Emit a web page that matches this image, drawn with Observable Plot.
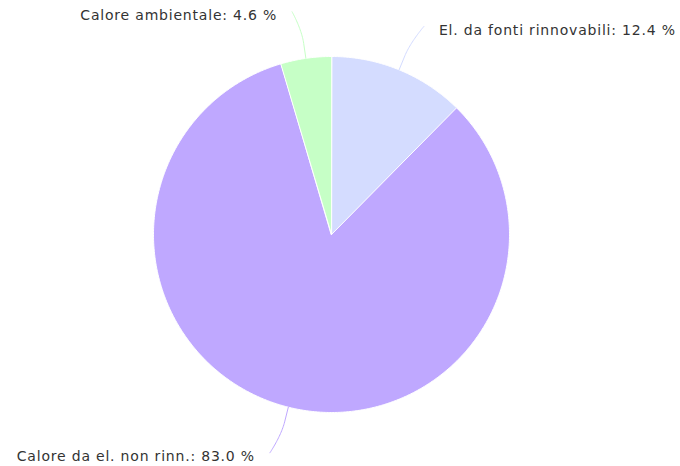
<!DOCTYPE html>
<html>
<head>
<meta charset="utf-8">
<script src="https://cdn.jsdelivr.net/npm/d3@7"></script>
<script src="https://cdn.jsdelivr.net/npm/@observablehq/plot@0.6"></script>
<style>
  html, body { margin: 0; padding: 0; background: #fff; }
  #chart svg { display: block; }
  #chart text { letter-spacing: 0.8px; }
</style>
</head>
<body>
<div id="chart"></div>
<script>
// Data
const names = ["El. da fonti rinnovabili", "Calore da el. non rinn.", "Calore ambientale"];
const values = [12.4, 83.0, 4.6];
const colors = ["#d4dcff", "#bfa8ff", "#c6ffc6"];

const W = 680, H = 466;
const R = 178;            // pie radius in pixels
const CX = 331, CY = 234; // pie centre in pixels

const total = d3.sum(values);
const slices = [];
let acc = 0;
names.forEach((n, i) => {
  const a0 = acc / total * 2 * Math.PI;
  acc += values[i];
  const a1 = acc / total * 2 * Math.PI;
  slices.push({name: n, value: values[i], a0, a1, mid: (a0 + a1) / 2});
});

// polar helper, unit = radius, angle clockwise from 12 o'clock
const pt = (a, r) => [Math.sin(a) * r, Math.cos(a) * r];

// slice polygons
const polys = [];
slices.forEach(s => {
  polys.push({name: s.name, x: 0, y: 0});
  const n = Math.max(2, Math.ceil((s.a1 - s.a0) / (Math.PI / 360)));
  for (let k = 0; k <= n; k++) {
    const a = s.a0 + (s.a1 - s.a0) * k / n;
    const [x, y] = pt(a, 1);
    polys.push({name: s.name, x, y});
  }
});

// connectors (soft connector: straight part + cubic curve to label)
const conns = [];
const labels = [];
slices.forEach(s => {
  const [tx, ty] = pt(s.mid, 1);
  const [bx, by] = pt(s.mid, 1.085);
  const side = tx >= 0 ? 1 : -1;
  const [ex0, ey] = pt(s.mid, 1.264);
  const ex = ex0 + side * 7 / R;
  const c2x = 2 * bx - tx, c2y = 2 * by - ty;
  conns.push({name: s.name, x: tx, y: ty});
  const N = 30;
  for (let k = 0; k <= N; k++) {
    const t = k / N, u = 1 - t;
    const x = u*u*u*bx + 3*u*u*t*c2x + 3*u*t*t*ex + t*t*t*ex;
    const y = u*u*u*by + 3*u*u*t*c2y + 3*u*t*t*ey + t*t*t*ey;
    conns.push({name: s.name, x, y});
  }
  labels.push({name: s.name, x: ex, y: ey, side,
    text: `${s.name}: ${s.value.toFixed(1)} %`});
});

const chart = Plot.plot({
  width: W,
  height: H,
  margin: 0,
  x: {domain: [-CX / R, (W - CX) / R], axis: null},
  y: {domain: [-(H - CY) / R, CY / R], axis: null},
  color: {domain: names, range: colors},
  style: {fontFamily: "'DejaVu Sans', sans-serif", background: "#fff"},
  marks: [
    Plot.line(polys, {x: "x", y: "y", z: "name", fill: "name", stroke: "#ffffff",
      strokeWidth: 1, curve: "linear-closed", strokeLinejoin: "round"}),
    Plot.line(conns, {x: "x", y: "y", z: "name", stroke: "name", strokeWidth: 1, curve: "linear"}),
    Plot.text(labels.filter(d => d.side > 0), {x: "x", y: "y", text: "text",
      textAnchor: "start", dx: 15, dy: 4, fontSize: 14, fill: "#333333"}),
    Plot.text(labels.filter(d => d.side < 0), {x: "x", y: "y", text: "text",
      textAnchor: "end", dx: -15, dy: 4, fontSize: 14, fill: "#333333"})
  ]
});
document.getElementById("chart").appendChild(chart);
</script>
</body>
</html>
